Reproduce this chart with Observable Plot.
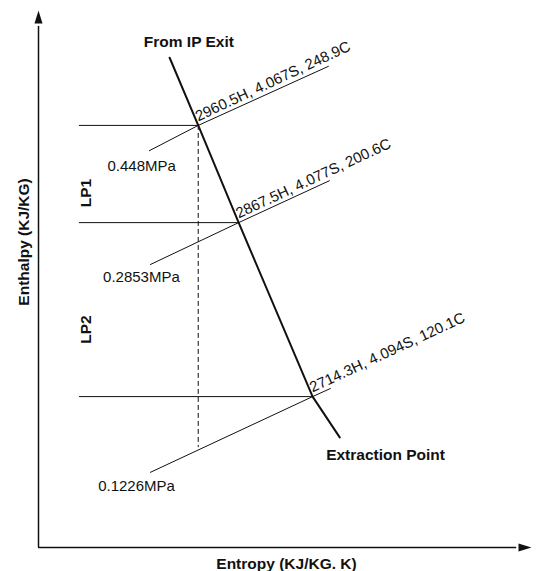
<!DOCTYPE html>
<html>
<head>
<meta charset="utf-8">
<script src="https://cdn.jsdelivr.net/npm/d3@7"></script>
<script src="https://cdn.jsdelivr.net/npm/@observablehq/plot@0.6"></script>
<style>
  html, body { margin: 0; padding: 0; background: #fff; }
  #chart svg { display: block; font-family: "Liberation Sans", Arial, Helvetica, sans-serif; }
</style>
</head>
<body>
<div id="chart"></div>
<script>
// ---- Steam state values (labels) ----
const pressures   = ["0.448MPa", "0.2853MPa", "0.1226MPa"];
const enthalpy    = ["2960.5", "2867.5", "2714.3"];
const entropy     = ["4.067", "4.077", "4.094"];
const temperature = ["248.9", "200.6", "120.1"];

// ---- Schematic positions (chart units, 0–100 on each axis) ----
const stateX = [32.4, 40.6, 55.6];
const stateY = [78.6, 60.5, 28.1];

const expansionX = [26.6, 32.4, 40.6, 55.6, 61.1];
const expansionY = [91.2, 78.6, 60.5, 28.1, 20.5];

const isobarStartX = [22.5, 22.7, 22.7];
const isobarStartY = [73.9, 52.7, 14.0];
const isobarEndX   = [58.8, 59.0, 59.2];
const isobarEndY   = [89.6, 68.3, 29.6];

const pressureLabelX = [14.0, 13.1, 12.1];
const pressureLabelY = [71.1, 50.3, 11.4];

const leaderStartX = 8.3;
const isentropeBottomY = 18.6;

const stageNames  = ["LP1", "LP2"];
const stageLabelX = [9.7, 9.7];
const stageLabelY = [66.0, 40.6];

const endLabels  = ["From IP Exit", "Extraction Point"];
const endLabelX  = [30.5, 70.4];
const endLabelY  = [94.2, 17.3];

const axisTitles = ["Entropy (KJ/KG. K)", "Enthalpy (KJ/KG)"];
const axisTitleX = [50.3, -3.0];
const axisTitleY = [-3.0, 56.9];
const axisTitleRotate = [0, -90];

// ---- Build tables ----
const states = stateX.map((x, i) => ({
  x, y: stateY[i],
  label: `${enthalpy[i]}H, ${entropy[i]}S, ${temperature[i]}C`
}));
const expansion = expansionX.map((x, i) => ({x, y: expansionY[i]}));
const isobars = pressures.flatMap((p, i) => [
  {p, x: isobarStartX[i], y: isobarStartY[i]},
  {p, x: stateX[i], y: stateY[i]},
  {p, x: isobarEndX[i], y: isobarEndY[i]}
]);
const leaders = stateX.map((x, i) => ({x1: leaderStartX, x2: x, y: stateY[i]}));
const pLabels = pressures.map((t, i) => ({t, x: pressureLabelX[i], y: pressureLabelY[i]}));
const stages = stageNames.map((t, i) => ({t, x: stageLabelX[i], y: stageLabelY[i]}));
const ends = endLabels.map((t, i) => ({t, x: endLabelX[i], y: endLabelY[i]}));
const titles = axisTitles.map((t, i) => ({t, x: axisTitleX[i], y: axisTitleY[i], r: axisTitleRotate[i]}));

const arrowHead = {
  draw(ctx) {
    ctx.moveTo(0, 0);
    ctx.lineTo(-4, 13);
    ctx.lineTo(4, 13);
    ctx.closePath();
  }
};

const ink = "#111";
const font = 15;
const boldFont = 15.5;

const chart = Plot.plot({
  width: 538,
  height: 571,
  margin: 0,
  x: {domain: [0, 100], range: [38, 531], axis: null},
  y: {domain: [0, 100], range: [547, 10], axis: null},
  marks: [
    // axes
    Plot.ruleX([0], {y1: 0, y2: 97, stroke: ink, strokeWidth: 1.5}),
    Plot.ruleY([0], {x1: 0, x2: 97, stroke: ink, strokeWidth: 1.5}),
    Plot.dot([{x: 0, y: 100}], {x: "x", y: "y", symbol: arrowHead, fill: ink, stroke: null, r: 5}),
    Plot.dot([{x: 100, y: 0}], {x: "x", y: "y", symbol: arrowHead, fill: ink, stroke: null, r: 5, rotate: 90}),
    // horizontal leaders
    Plot.ruleY(leaders, {x1: "x1", x2: "x2", y: "y", stroke: ink, strokeWidth: 1}),
    // isentropic dashed line
    Plot.ruleX([stateX[0]], {y1: stateY[0], y2: isentropeBottomY, stroke: ink, strokeWidth: 1, strokeDasharray: "5,3"}),
    // isobars
    Plot.line(isobars, {x: "x", y: "y", z: "p", stroke: ink, strokeWidth: 1}),
    // expansion line
    Plot.line(expansion, {x: "x", y: "y", stroke: ink, strokeWidth: 2}),
    // state labels along isobars
    Plot.text(states, {x: "x", y: "y", text: "label", rotate: -25, textAnchor: "start", lineAnchor: "bottom", dy: -4, dx: 0, fontSize: font, fill: ink}),
    // pressure labels
    Plot.text(pLabels, {x: "x", y: "y", text: "t", textAnchor: "start", fontSize: font, fill: ink}),
    // stage labels
    Plot.text(stages, {x: "x", y: "y", text: "t", rotate: -90, fontSize: boldFont, fontWeight: "bold", fill: ink}),
    // end labels
    Plot.text(ends, {x: "x", y: "y", text: "t", fontSize: boldFont, fontWeight: "bold", fill: ink}),
    // axis titles
    Plot.text(titles, {x: "x", y: "y", text: "t", rotate: "r", fontSize: boldFont, fontWeight: "bold", fill: ink})
  ]
});

document.getElementById("chart").appendChild(chart);
</script>
</body>
</html>
